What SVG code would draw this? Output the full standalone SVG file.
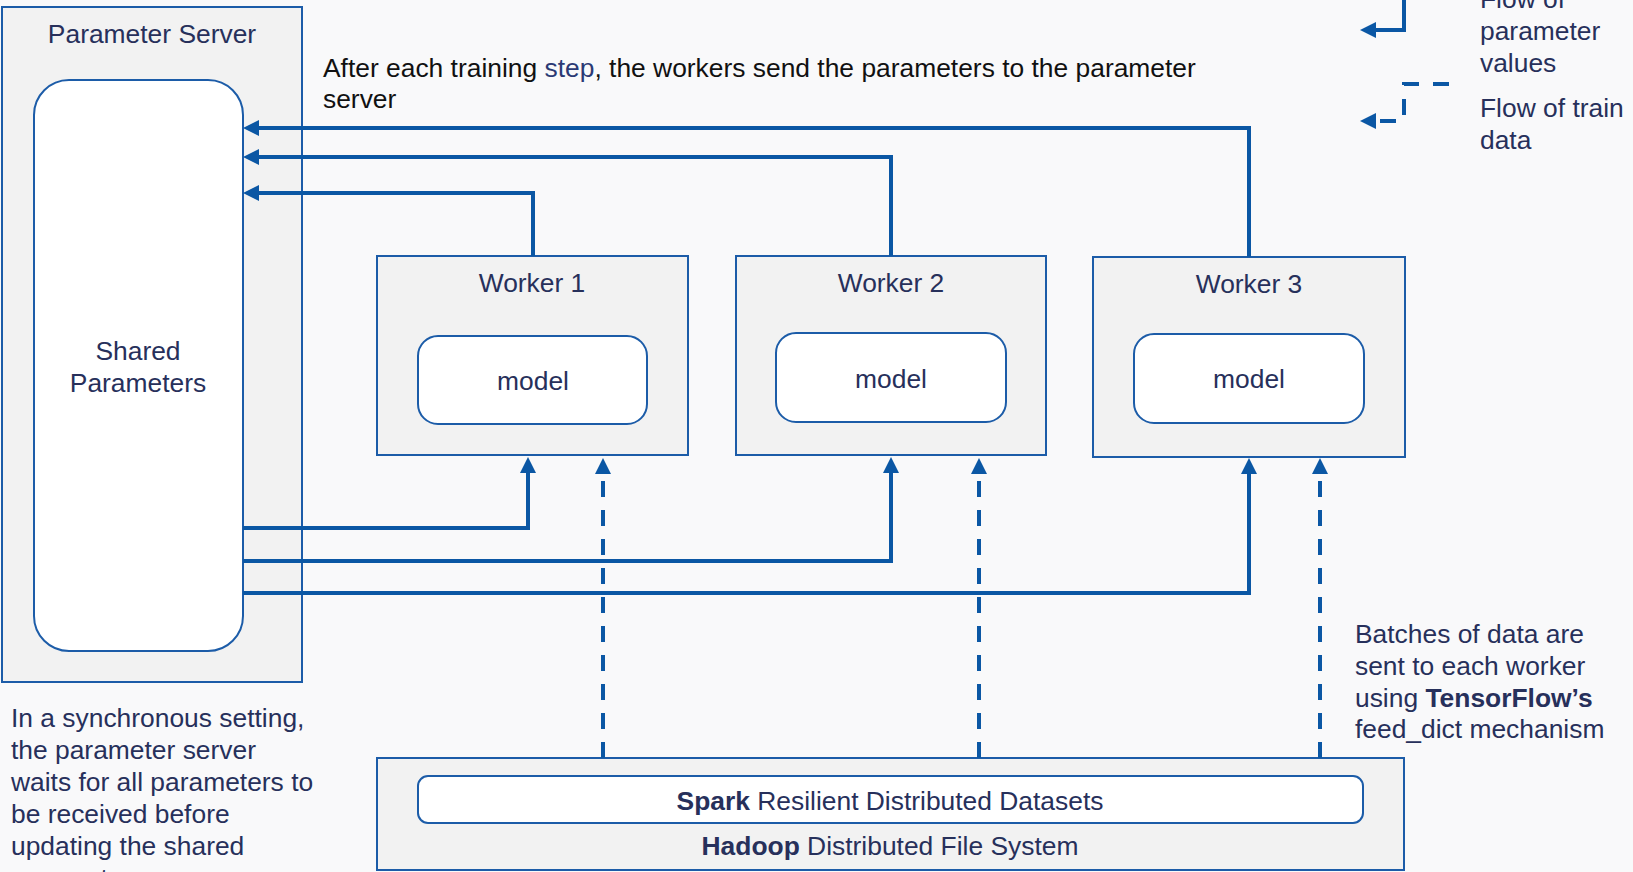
<svg xmlns="http://www.w3.org/2000/svg" width="1633" height="872" viewBox="0 0 1633 872">
  <style>
    text { font-family: "Liberation Sans", Arial, sans-serif; font-size: 26.4px; fill: #27305b; }
    .box { fill: #f2f2f2; stroke: #1c5ca8; stroke-width: 2; }
    .inner { fill: #ffffff; stroke: #1c5ca8; stroke-width: 2; }
    .mid { text-anchor: middle; }
    .conn { fill: none; stroke: #0b57a4; stroke-width: 4; }
    .dash { stroke-dasharray: 16 13; }
    .b { font-weight: bold; }
  </style>
  <defs>
    <marker id="arr" viewBox="0 0 16 16" markerUnits="userSpaceOnUse" markerWidth="16" markerHeight="16" refX="0" refY="8" orient="auto">
      <path d="M0,0 L16,8 L0,16 z" fill="#0b57a4"/>
    </marker>
  </defs>
  <rect x="0" y="0" width="1633" height="872" fill="#f9f9fa"/>

  <g id="parameter-server">
    <rect class="box" x="2" y="7" width="300" height="675"/>
    <text class="mid" x="152" y="43">Parameter Server</text>
  </g>
  <g id="shared-parameters">
    <rect class="inner" x="34" y="80" width="209" height="571" rx="35" ry="35"/>
    <text class="mid" x="138" y="360">Shared</text>
    <text class="mid" x="138" y="392">Parameters</text>
  </g>

  <g id="worker1">
    <rect class="box" x="377" y="256" width="311" height="199"/>
    <text class="mid" x="532" y="292">Worker 1</text>
    <rect class="inner" x="418" y="336" width="229" height="88" rx="20" ry="20"/>
    <text class="mid" x="533" y="390">model</text>
  </g>
  <g id="worker2">
    <rect class="box" x="736" y="256" width="310" height="199"/>
    <text class="mid" x="891" y="292">Worker 2</text>
    <rect class="inner" x="776" y="333" width="230" height="89" rx="20" ry="20"/>
    <text class="mid" x="891" y="388">model</text>
  </g>
  <g id="worker3">
    <rect class="box" x="1093" y="257" width="312" height="200"/>
    <text class="mid" x="1249" y="293">Worker 3</text>
    <rect class="inner" x="1134" y="334" width="230" height="89" rx="20" ry="20"/>
    <text class="mid" x="1249" y="388">model</text>
  </g>

  <g id="hdfs">
    <rect class="box" x="377" y="758" width="1027" height="112"/>
    <text class="mid" x="890" y="855"><tspan class="b">Hadoop</tspan> Distributed File System</text>
  </g>
  <g id="spark-rdd">
    <rect class="inner" x="418" y="776" width="945" height="47" rx="10" ry="10"/>
    <text class="mid" x="890" y="810"><tspan class="b">Spark</tspan> Resilient Distributed Datasets</text>
  </g>

  <g id="connectors">
    <path class="conn" d="M1249,257 V128 H259" marker-end="url(#arr)"/>
    <path class="conn" d="M891,256 V157 H259" marker-end="url(#arr)"/>
    <path class="conn" d="M533,256 V193 H259" marker-end="url(#arr)"/>
    <path class="conn" d="M243,528 H528 V473" marker-end="url(#arr)"/>
    <path class="conn" d="M243,561 H891 V473" marker-end="url(#arr)"/>
    <path class="conn" d="M243,593 H1249 V474" marker-end="url(#arr)"/>
    <path class="conn dash" d="M603,758 V474" marker-end="url(#arr)"/>
    <path class="conn dash" d="M979,758 V474" marker-end="url(#arr)"/>
    <path class="conn dash" d="M1320,758 V474" marker-end="url(#arr)"/>
  </g>

  <g id="legend">
    <path class="conn" d="M1404,0 V30 H1376" marker-end="url(#arr)"/>
    <path class="conn" d="M1449,84 H1404 V121 H1376" style="stroke-dasharray:16 14" marker-end="url(#arr)"/>
    <text x="1480" y="8">Flow of</text>
    <text x="1480" y="40">parameter</text>
    <text x="1480" y="72">values</text>
    <text x="1480" y="117">Flow of train</text>
    <text x="1480" y="149">data</text>
  </g>

  <g id="notes">
    <text x="323" y="77" style="fill:#111111">After each training <tspan style="fill:#2b3a75">step</tspan>, the workers send the parameters to the parameter</text>
    <text x="323" y="108" style="fill:#111111">server</text>
    <text x="11" y="727">In a synchronous setting,</text>
    <text x="11" y="759">the parameter server</text>
    <text x="11" y="791">waits for all parameters to</text>
    <text x="11" y="823">be received before</text>
    <text x="11" y="855">updating the shared</text>
    <text x="11" y="887">parameters.</text>
    <text x="1355" y="643">Batches of data are</text>
    <text x="1355" y="675">sent to each worker</text>
    <text x="1355" y="707">using <tspan class="b">TensorFlow’s</tspan></text>
    <text x="1355" y="738">feed_dict mechanism</text>
  </g>
</svg>
